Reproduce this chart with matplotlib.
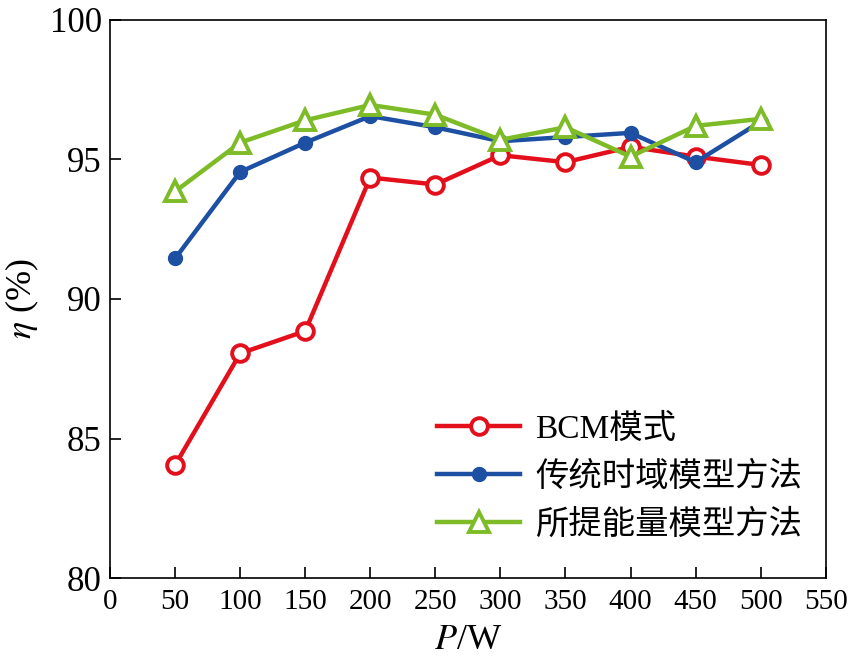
import matplotlib
matplotlib.use('Agg')
import matplotlib.pyplot as plt

power = [50, 100, 150, 200, 250, 300, 350, 400, 450, 500]
eta_bcm = [84.05, 88.05, 88.85, 94.35, 94.1, 95.15, 94.9, 95.45, 95.1, 94.8]
eta_time = [91.45, 94.55, 95.6, 96.55, 96.15, 95.65, 95.8, 95.95, 94.9, 96.35]
eta_energy = [93.85, 95.6, 96.4, 96.95, 96.6, 95.7, 96.15, 95.1, 96.2, 96.45]

labels = ['BCM模式', '传统时域模型方法', '所提能量模型方法']
xticks = list(range(0, 551, 50))
yticks = list(range(80, 101, 5))

plt.rcParams['font.family'] = ['Liberation Serif', 'Noto Sans CJK SC']
plt.rcParams['mathtext.fontset'] = 'stix'

fig = plt.figure(figsize=(8.53, 6.6), dpi=100)
ax = fig.add_axes([0.129, 0.124, 0.839, 0.846])

ax.plot(power, eta_bcm, color='#e3101c', lw=3.2, marker='o', ms=12,
        mfc='white', mec='#e3101c', mew=2.8, label=labels[0])
ax.plot(power, eta_time, color='#1d4fa3', lw=3.2, marker='o', ms=10,
        mfc='#1d4fa3', mec='#1d4fa3', label=labels[1])
ax.plot(power, eta_energy, color='#7dbb27', lw=3.2, marker='^', ms=15,
        mfc='white', mec='#7dbb27', mew=2.8, label=labels[2])

ax.set_xlim(0, 550)
ax.set_ylim(80, 100)
ax.set_xticks(xticks)
ax.set_yticks(yticks)
ax.tick_params(direction='in', length=8, width=1.2, labelsize=21, pad=8)
ax.tick_params(axis='y', labelsize=25, pad=6)
for s in ax.spines.values():
    s.set_linewidth(1.2)

ax.set_xlabel('$P$/W', fontsize=26, labelpad=6)
ax.set_ylabel('$\\eta$ (%)', fontsize=26, labelpad=6)

leg = ax.legend(loc='lower right', bbox_to_anchor=(1.0, 0.025), frameon=False,
                fontsize=24, handlelength=2.5, labelspacing=0.5,
                handletextpad=0.45, borderaxespad=0.3)

fig.savefig('out.png', dpi=100)
